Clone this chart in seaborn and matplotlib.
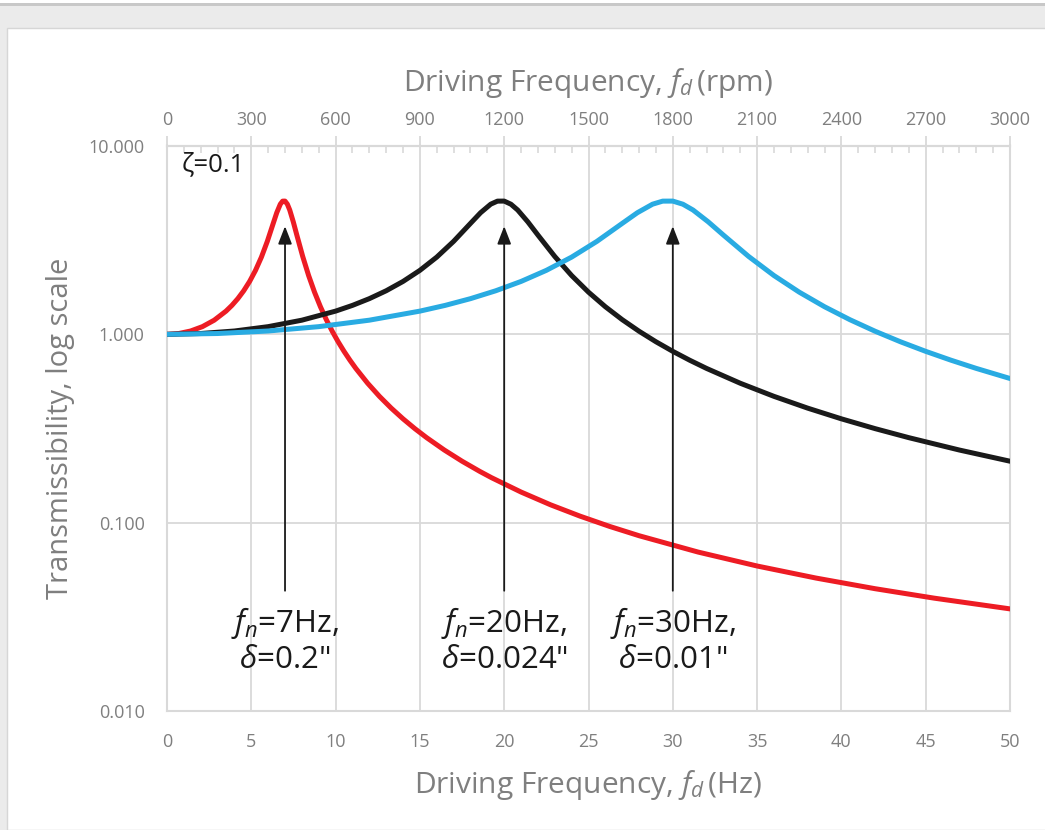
import numpy as np
import pandas as pd
import matplotlib
matplotlib.use("Agg")
import matplotlib.pyplot as plt
from matplotlib.patches import Rectangle
from matplotlib.ticker import MultipleLocator, LogLocator, FixedLocator, NullFormatter, FuncFormatter
import seaborn as sns

# ---------------- data ----------------
zeta_label = "ζ=0.1"
fn_values = [7, 20, 30]                       # natural frequencies (Hz)
deflections = ['0.2"', '0.024"', '0.01"']
series_names = ["fn7", "fn20", "fn30"]
series_colors = ["#ED1C24", "#1A1A1A", "#29ABE2"]

hz_fn7 = [0, 0.7, 1.4, 2.1, 2.8, 3.5, 3.85, 4.2, 4.55, 4.9, 5.25, 5.6, 5.95, 6.3, 6.51, 6.72,
          6.86, 7.0, 7.14, 7.28, 7.49, 7.7, 8.05, 8.4, 8.75, 9.1, 9.45, 9.8, 10.15, 10.5, 10.85,
          11.2, 11.9, 12.6, 13.3, 14.0, 14.7, 15.4, 16.45, 17.5, 18.55, 19.25, 21, 22.75, 24.5,
          26.25, 28, 31.5, 35, 38.5, 42, 45.5, 50]
tr_fn7 = [1.0, 1.0101, 1.0416, 1.0985, 1.1889, 1.3282, 1.4247, 1.5468, 1.7035, 1.9093, 2.1864,
          2.5707, 3.1169, 3.8822, 4.4246, 4.9099, 5.0962, 5.0990, 4.9076, 4.5714, 3.9570, 3.3666,
          2.5904, 2.0519, 1.6746, 1.4013, 1.1965, 1.0385, 0.9133, 0.8122, 0.7289, 0.6593, 0.5500,
          0.4685, 0.4056, 0.3559, 0.3157, 0.2827, 0.2430, 0.2120, 0.1872, 0.1733, 0.1454, 0.1244,
          0.1083, 0.09554, 0.08525, 0.06981, 0.05887, 0.05079, 0.04460, 0.03974, 0.03485]

hz_fn20 = [0, 2, 4, 6, 8, 10, 11, 12, 13, 14, 15, 16, 17, 18, 18.6, 19.2, 19.6, 20, 20.4, 20.8,
           21.4, 22, 23, 24, 25, 26, 27, 28, 29, 30, 31, 32, 34, 36, 38, 40, 42, 44, 47, 50]
tr_fn20 = [1.0, 1.0101, 1.0416, 1.0985, 1.1889, 1.3282, 1.4247, 1.5468, 1.7035, 1.9093, 2.1864,
           2.5707, 3.1169, 3.8822, 4.4246, 4.9099, 5.0962, 5.0990, 4.9076, 4.5714, 3.9570, 3.3666,
           2.5904, 2.0519, 1.6746, 1.4013, 1.1965, 1.0385, 0.9133, 0.8122, 0.7289, 0.6593, 0.5500,
           0.4685, 0.4056, 0.3559, 0.3157, 0.2827, 0.2430, 0.2120]

hz_fn30 = [0, 3, 6, 9, 12, 15, 16.5, 18, 19.5, 21, 22.5, 24, 25.5, 27, 27.9, 28.8, 29.4, 30, 30.6,
           31.2, 32.1, 33, 34.5, 36, 37.5, 39, 40.5, 42, 43.5, 45, 46.5, 48, 50]
tr_fn30 = [1.0, 1.0101, 1.0416, 1.0985, 1.1889, 1.3282, 1.4247, 1.5468, 1.7035, 1.9093, 2.1864,
           2.5707, 3.1169, 3.8822, 4.4246, 4.9099, 5.0962, 5.0990, 4.9076, 4.5714, 3.9570, 3.3666,
           2.5904, 2.0519, 1.6746, 1.4013, 1.1965, 1.0385, 0.9133, 0.8122, 0.7289, 0.6593, 0.5828]

arrow_tip = 3.75      # transmissibility at arrow head
arrow_tail = 0.0435   # transmissibility at arrow tail
label_y = 0.0238      # centre of the annotation labels

x_ticks_hz = [0, 5, 10, 15, 20, 25, 30, 35, 40, 45, 50]
x_ticks_rpm = [0, 300, 600, 900, 1200, 1500, 1800, 2100, 2400, 2700, 3000]
y_ticks = [0.01, 0.1, 1.0, 10.0]

# ---------------- style ----------------
sns.set_theme(style="white")
plt.rcParams["font.family"] = ["Open Sans", "DejaVu Sans"]
plt.rcParams["mathtext.fontset"] = "custom"
plt.rcParams["mathtext.rm"] = "Open Sans"
plt.rcParams["mathtext.it"] = "Open Sans:italic"

GRID = "#D9D9D9"
TXT = "#7F7F7F"

df = pd.concat([
    pd.DataFrame({"hz": hz_fn7, "T": tr_fn7, "series": series_names[0]}),
    pd.DataFrame({"hz": hz_fn20, "T": tr_fn20, "series": series_names[1]}),
    pd.DataFrame({"hz": hz_fn30, "T": tr_fn30, "series": series_names[2]}),
], ignore_index=True)

fig = plt.figure(figsize=(10.45, 8.30), dpi=100)
fig.patch.set_facecolor("#EBEBEB")
# white chart panel and top border line
fig.add_artist(Rectangle((7 / 1045, 0), 1, (830 - 28) / 830, transform=fig.transFigure,
                         facecolor="white", edgecolor="#D6D6D6", lw=1, zorder=0))
fig.add_artist(Rectangle((0, (830 - 6) / 830), 1, 3 / 830, transform=fig.transFigure,
                         facecolor="#C8C8C8", edgecolor="none", zorder=0))
fig.add_artist(Rectangle((0, (830 - 3) / 830), 1, 3 / 830, transform=fig.transFigure,
                         facecolor="white", edgecolor="none", zorder=0))

ax = fig.add_axes([167 / 1045, 1 - 711 / 830, (1010 - 167) / 1045, (711 - 146) / 830])
ax.set_facecolor("none")

sns.lineplot(data=df, x="hz", y="T", hue="series", palette=dict(zip(series_names, series_colors)),
             sort=False, lw=3.6, legend=False, ax=ax, zorder=3)

ax.set_yscale("log")
ax.set_xlim(0, 50)
ax.set_ylim(0.01, 10)

# grid
ax.xaxis.set_major_locator(FixedLocator(x_ticks_hz))
ax.yaxis.set_major_locator(FixedLocator(y_ticks))
ax.grid(True, which="major", axis="both", color=GRID, lw=1.3, zorder=0)
ax.set_axisbelow(True)
for s in ["left", "bottom", "top", "right"]:
    ax.spines[s].set_color(GRID)
    ax.spines[s].set_linewidth(1.5)

ax.xaxis.set_minor_locator(MultipleLocator(1))
ax.yaxis.set_minor_locator(LogLocator(base=10, subs=np.arange(2, 10)))
ax.yaxis.set_minor_formatter(NullFormatter())
ax.yaxis.set_major_formatter(FuncFormatter(lambda v, p: f"{v:.3f}"))
ax.set_xticklabels([str(t) for t in x_ticks_hz])

ax.tick_params(axis="x", which="major", length=0, pad=16, labelsize=13, labelcolor=TXT)
ax.tick_params(axis="x", which="minor", direction="in", length=5, color=GRID, width=1.2)
ax.tick_params(axis="y", which="major", length=0, pad=16, labelsize=13, labelcolor=TXT)
ax.tick_params(axis="y", which="minor", direction="in", length=5, color=GRID, width=1.2)

# top rpm axis
sec = ax.secondary_xaxis("top", functions=(lambda hz: hz * 60, lambda rpm: rpm / 60))
sec.xaxis.set_major_locator(FixedLocator(x_ticks_rpm))
sec.xaxis.set_minor_locator(MultipleLocator(60))
sec.set_xticklabels([str(t) for t in x_ticks_rpm])
sec.spines["top"].set_color(GRID)
sec.spines["top"].set_linewidth(1.5)
sec.tick_params(axis="x", which="major", direction="out", length=7, color=GRID, width=1.3,
                pad=5.5, labelsize=13, labelcolor=TXT)
sec.tick_params(axis="x", which="minor", direction="in", length=5, color=GRID, width=1.2)
sec.set_xlabel(r"Driving Frequency, $f_d\,$(rpm)", fontsize=21.5, color=TXT, labelpad=14)

ax.set_xlabel(r"Driving Frequency, $f_d\,$(Hz)", fontsize=21.5, color=TXT, labelpad=12)
ax.set_ylabel("Transmissibility, log scale", fontsize=21, color=TXT, labelpad=10)

ax.text(0.017, 0.966, zeta_label, transform=ax.transAxes, fontsize=18.5, color="#1A1A1A",
        ha="left", va="center")

for fn, d in zip(fn_values, deflections):
    ax.annotate("", xy=(fn, arrow_tip), xytext=(fn, arrow_tail),
                arrowprops=dict(arrowstyle="-|>,head_length=0.9,head_width=0.35",
                                color="#1A1A1A", lw=1.3, shrinkA=0, shrinkB=0), zorder=4)
    ax.text(fn, label_y, rf"$f_n$=${fn}$Hz," + "\n" + rf"$\delta$=${d[:-1]}$" + '"',
            ha="center", va="center", fontsize=22.5, color="#1A1A1A", linespacing=1.2, zorder=5)

fig.savefig("out.png", dpi=100, facecolor=fig.get_facecolor())
